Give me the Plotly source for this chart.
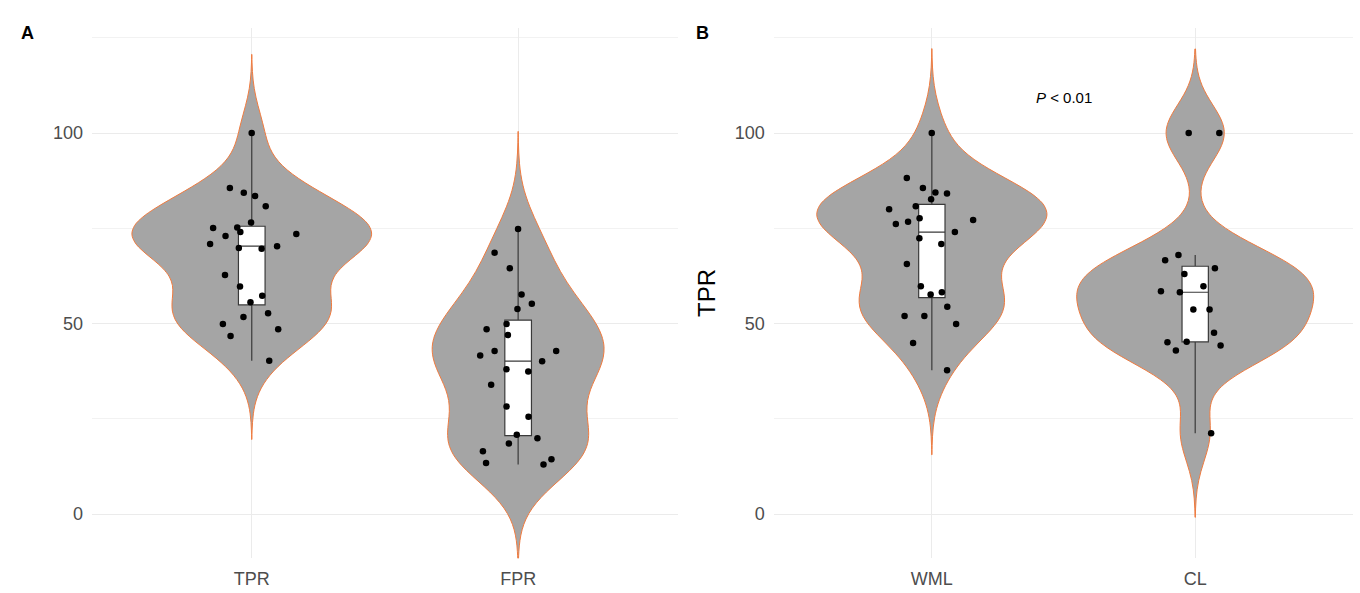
import numpy as np
import plotly.graph_objects as go

# ---------------- data ----------------
categories_a = ["TPR", "FPR"]
categories_b = ["WML", "CL"]

tpr_values = [100, 85.6, 83.5, 84.3, 80.8, 76.5, 75.2, 74.0, 75.1, 73.5, 73.0, 70.3, 70.9,
              69.6, 69.8, 62.7, 59.7, 57.3, 55.6, 52.7, 51.7, 49.9, 48.5, 46.7, 40.2]
fpr_values = [74.8, 68.6, 64.5, 57.6, 53.8, 55.2, 49.9, 48.5, 47.0, 42.8, 42.8, 41.6, 40.1,
              38.0, 37.4, 33.9, 28.2, 25.5, 20.8, 19.9, 18.5, 16.5, 14.4, 13.4, 13.0]
wml_values = [100, 88.2, 85.6, 84.1, 84.4, 82.6, 80.8, 80.0, 77.6, 76.7, 77.2, 76.1, 74.0,
              72.4, 70.9, 65.6, 59.8, 58.2, 57.6, 54.4, 52.0, 52.0, 49.9, 44.9, 37.7]
cl_values = [100, 100, 68.0, 66.6, 64.5, 63.0, 59.8, 58.5, 58.2, 53.7, 53.7, 47.6, 45.1,
             45.2, 44.2, 42.9, 21.2]

y_tick_values = [0, 50, 100]
y_minor_values = [25, 75, 125]
p_label = "<i>P</i> &lt; 0.01"
y_title_b = "TPR"

# ---------------- style ----------------
FILL = "#A5A5A5"
EDGE = "#F07B3F"
BOXLINE = "#3A3A3A"
GRID = "#EBEBEB"
FONT = "Liberation Sans, Arial, sans-serif"
Y_RANGE = [-11.6, 127.6]


def bw_nrd0(v):
    v = np.asarray(v, float)
    sd = v.std(ddof=1)
    q1, q3 = np.percentile(v, [25, 75])
    lo = min(sd, (q3 - q1) / 1.34)
    return 0.9 * lo * len(v) ** -0.2


def violin(cat, vals, xa, ya, group):
    bw = bw_nrd0(vals)
    span = [min(vals) - 3 * bw, max(vals) + 3 * bw]
    return go.Violin(
        x=[cat] * len(vals), y=vals, name=cat, xaxis=xa, yaxis=ya,
        bandwidth=bw, spanmode="manual", span=span,
        scalegroup=group, scalemode="width",
        fillcolor=FILL, opacity=1, line=dict(color=EDGE, width=1),
        points="all", jitter=0.42, pointpos=0,
        marker=dict(color="black", size=6.5, line=dict(width=0)),
        box=dict(visible=True, width=0.1 / 0.9, fillcolor="white",
                 line=dict(color=BOXLINE, width=1.2)),
        meanline=dict(visible=False),
        showlegend=False,
    )


fig = go.Figure()
fig.add_trace(violin(categories_a[0], tpr_values, "x", "y", "A"))
fig.add_trace(violin(categories_a[1], fpr_values, "x", "y", "A"))
fig.add_trace(violin(categories_b[0], wml_values, "x2", "y2", "B"))
fig.add_trace(violin(categories_b[1], cl_values, "x2", "y2", "B"))

xcommon = dict(
    type="category", range=[-0.6, 1.6], showgrid=True, gridcolor=GRID, gridwidth=1,
    zeroline=False, showline=False, ticks="", automargin=False,
    tickfont=dict(family=FONT, size=18, color="#4D4D4D"), ticklabelstandoff=8,
)
ycommon = dict(
    range=Y_RANGE, domain=[0.0587, 0.953], tickvals=y_tick_values,
    showgrid=True, gridcolor=GRID, gridwidth=1, zeroline=False, showline=False,
    ticks="", automargin=False,
    minor=dict(tickvals=y_minor_values, showgrid=True, gridcolor="#F2F2F2", gridwidth=0.8),
    tickfont=dict(family=FONT, size=18, color="#4D4D4D"), ticklabelstandoff=8,
)

fig.update_layout(
    width=1360, height=593, margin=dict(l=0, r=0, t=0, b=0),
    paper_bgcolor="white", plot_bgcolor="white", template="none",
    violinmode="overlay", violingap=0.1, violingroupgap=0,
    xaxis=dict(xcommon, domain=[0.0676, 0.4985], anchor="y",
               categoryorder="array", categoryarray=categories_a),
    yaxis=dict(ycommon, anchor="x"),
    xaxis2=dict(xcommon, domain=[0.569, 0.995], anchor="y2",
                categoryorder="array", categoryarray=categories_b),
    yaxis2=dict(ycommon, anchor="x2",
                title=dict(text=y_title_b, font=dict(family=FONT, size=24, color="black"),
                           standoff=12)),
    annotations=[
        dict(text="<b>A</b>", x=19 / 1360, y=1 - 21 / 593, xref="paper", yref="paper",
             showarrow=False, font=dict(family=FONT, size=18, color="black")),
        dict(text="<b>B</b>", x=702 / 1360, y=1 - 21 / 593, xref="paper", yref="paper",
             showarrow=False, font=dict(family=FONT, size=18, color="black")),
        dict(text=p_label, x=0.5, y=109.4, xref="x2", yref="y2",
             showarrow=False, font=dict(family=FONT, size=15, color="black")),
    ],
)

fig.write_html("out.html")
